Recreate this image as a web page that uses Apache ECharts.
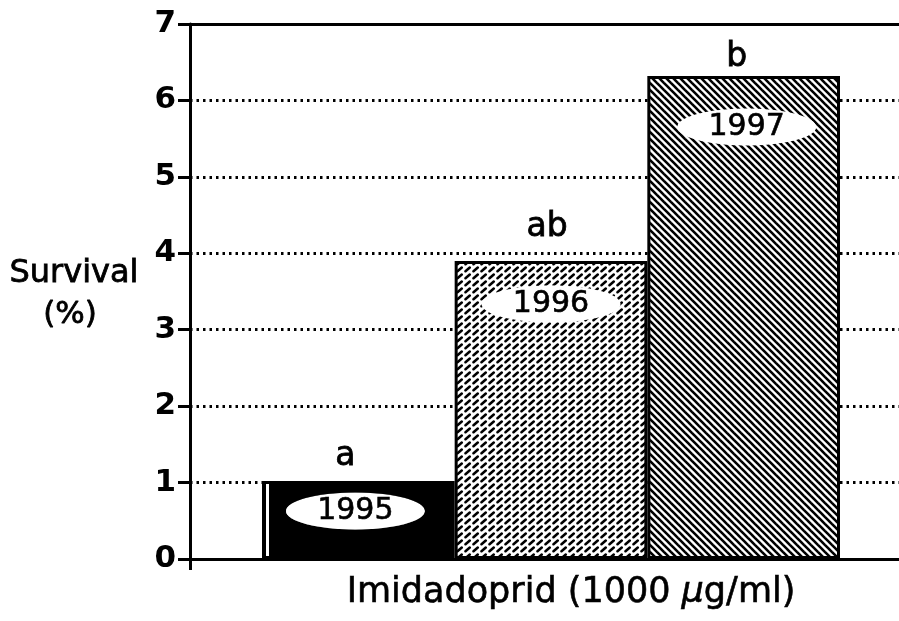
<!DOCTYPE html>
<html>
<head>
<meta charset="utf-8">
<script src="https://cdn.jsdelivr.net/npm/echarts@6/dist/echarts.min.js"></script>
<style>
  html, body { margin: 0; padding: 0; background: #fff; }
  #chart { width: 899px; height: 621px; }
</style>
</head>
<body>
<div id="chart"></div>
<script>
// data
var years = ['1995', '1996', '1997'];
var survival = [1.02, 3.9, 6.32];
var letters = ['a', 'ab', 'b'];
var yMin = 0, yMax = 7, yStep = 1;

// label placement tweaks (px)
var letterDistance = [8, 17, 2];
var letterShift = [-13, -4, -7];
var yearDistance = [11, 24, 32];
var yearShift = [-3, 0, 3];

var FONT = 'DejaVu Sans';

function makeCanvas(w, h, draw) {
    var c = document.createElement('canvas');
    c.width = w;
    c.height = h;
    draw(c.getContext('2d'));
    return c;
}

// "\" hatching for 1997
var hatch = makeCanvas(7, 7, function (ctx) {
    ctx.fillStyle = '#fff';
    ctx.fillRect(0, 0, 7, 7);
    ctx.strokeStyle = '#000';
    ctx.lineWidth = 2.6;
    [-7, 0, 7].forEach(function (o) {
        ctx.beginPath();
        ctx.moveTo(o - 1, -1);
        ctx.lineTo(o + 8, 8);
        ctx.stroke();
    });
});

// short "/" dashes for 1996
var dashes = makeCanvas(8, 7, function (ctx) {
    ctx.fillStyle = '#fff';
    ctx.fillRect(0, 0, 8, 7);
    ctx.strokeStyle = '#000';
    ctx.lineWidth = 2.5;
    ctx.lineCap = 'round';
    ctx.beginPath();
    ctx.moveTo(1.5, 5.3);
    ctx.lineTo(5.8, 1.5);
    ctx.stroke();
});

// white ellipse behind the year labels
var ellipse = makeCanvas(280, 76, function (ctx) {
    ctx.fillStyle = '#fff';
    ctx.beginPath();
    ctx.ellipse(140, 38, 139, 37, 0, 0, Math.PI * 2);
    ctx.fill();
});

// solid black with a thin white strip near the left edge
var blackFill = {
    type: 'linear', x: 0, y: 0, x2: 1, y2: 0,
    colorStops: [
        { offset: 0, color: '#000' }, { offset: 0.02, color: '#000' },
        { offset: 0.02, color: '#fff' }, { offset: 0.035, color: '#fff' },
        { offset: 0.035, color: '#000' }, { offset: 1, color: '#000' }
    ]
};
var fills = [blackFill, { image: dashes, repeat: 'repeat' }, { image: hatch, repeat: 'repeat' }];

var barData = survival.map(function (v, i) {
    return {
        value: v,
        itemStyle: { color: fills[i] },
        label: { distance: yearDistance[i], offset: [yearShift[i], 0] }
    };
});

var letterData = survival.map(function (v, i) {
    return {
        value: v,
        label: { formatter: letters[i], distance: letterDistance[i], offset: [letterShift[i], 0] }
    };
});

var chart = echarts.init(document.getElementById('chart'));

// thin outline to thicken the glyphs a little
var heavy = { textBorderColor: '#000', textBorderWidth: 0.8 };

var option = {
    animation: false,
    grid: [
        { left: 190, right: 0, top: 24, bottom: 62 },
        { left: 262, width: 578, top: 24, bottom: 62 }
    ],
    xAxis: [
        {
            gridIndex: 0, type: 'category', data: ['', ''], boundaryGap: false, position: 'bottom',
            axisLine: { lineStyle: { color: '#000', width: 3 } },
            axisTick: {
                show: true, length: 11, lineStyle: { color: '#000', width: 3 },
                interval: function (i) { return i === 0; }
            },
            axisLabel: { show: false },
            splitLine: { show: false }
        },
        {
            gridIndex: 0, type: 'category', data: ['', ''], boundaryGap: false, position: 'top',
            axisLine: { lineStyle: { color: '#000', width: 3 } },
            axisTick: { show: false },
            axisLabel: { show: false },
            splitLine: { show: false }
        },
        {
            gridIndex: 1, type: 'category', data: years,
            axisLine: { show: false }, axisTick: { show: false }, axisLabel: { show: false }
        }
    ],
    yAxis: [
        {
            gridIndex: 0, type: 'value', min: yMin, max: yMax, interval: yStep,
            axisLine: { show: true, lineStyle: { color: '#000', width: 3 } },
            axisTick: { show: true, length: 12, lineStyle: { color: '#000', width: 3 } },
            axisLabel: { color: '#000', fontSize: 31, fontWeight: 'bold', fontFamily: FONT, margin: 14 },
            splitLine: { show: true, lineStyle: { color: '#000', width: 2.8, type: [2.5, 4] } }
        },
        { gridIndex: 1, type: 'value', min: yMin, max: yMax, show: false }
    ],
    series: [
        {
            type: 'bar', xAxisIndex: 2, yAxisIndex: 1, barWidth: '100%',
            data: barData,
            itemStyle: { borderColor: '#000', borderWidth: 3 },
            label: {
                show: true, position: 'insideTop',
                formatter: '{e|{b}}',
                rich: {
                    e: {
                        backgroundColor: { image: ellipse },
                        width: 140, height: 38, lineHeight: 38, align: 'center',
                        fontSize: 30, color: '#000', fontFamily: FONT,
                        textBorderColor: '#000', textBorderWidth: 0.6
                    }
                }
            }
        },
        {
            type: 'bar', xAxisIndex: 2, yAxisIndex: 1, barWidth: '100%', barGap: '-100%',
            data: letterData,
            itemStyle: { color: 'transparent' },
            label: Object.assign({ show: true, position: 'top', color: '#000', fontSize: 33, fontFamily: FONT }, heavy)
        }
    ],
    graphic: [
        { type: 'text', x: 74, y: 274, style: { text: 'Survival', textAlign: 'center', textVerticalAlign: 'middle', font: '32px "DejaVu Sans"', fill: '#000', stroke: '#000', lineWidth: 0.8 } },
        { type: 'text', x: 70, y: 315, style: { text: '(%)', textAlign: 'center', textVerticalAlign: 'middle', font: '31px "DejaVu Sans"', fill: '#000', stroke: '#000', lineWidth: 0.8 } },
        {
            type: 'text', x: 571, y: 593,
            style: {
                text: '{n|Imidadoprid (1000 }{i|\u03bc}{n|g/ml)}',
                textAlign: 'center', textVerticalAlign: 'middle',
                rich: {
                    n: { fontSize: 35, fontFamily: FONT, fill: '#000', stroke: '#000', lineWidth: 0.6 },
                    i: { fontSize: 35, fontFamily: FONT, fontStyle: 'italic', fill: '#000', stroke: '#000', lineWidth: 0.6 }
                }
            }
        }
    ]
};

chart.setOption(option);

window.addEventListener('resize', function () {
    chart.resize();
});
</script>
</body>
</html>
